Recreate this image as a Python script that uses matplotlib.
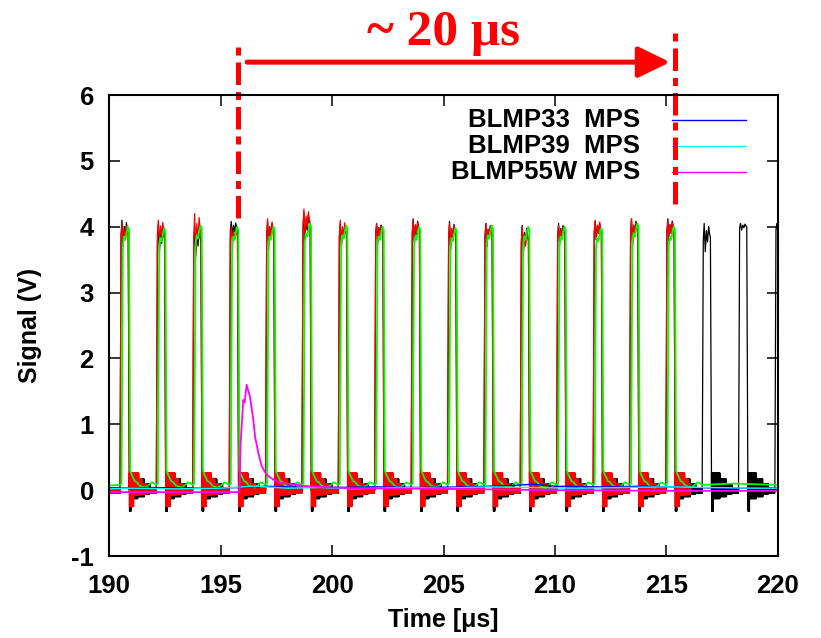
import matplotlib
matplotlib.use('Agg')
import matplotlib.pyplot as plt
import numpy as np

plt.rcParams['font.family'] = ['Liberation Sans', 'DejaVu Sans']
plt.rcParams['axes.unicode_minus'] = False

# pulse onsets (us)
onsets = [190.49, 192.12, 193.75, 195.39, 197.02, 198.65, 200.28, 201.91, 203.55,
          205.18, 206.81, 208.44, 210.07, 211.71, 213.34, 214.97, 216.60, 218.23, 219.86]
black_peak = [4.10, 4.02, 4.00, 4.08, 4.08, 4.22, 4.05, 4.05, 4.12, 4.08,
              4.05, 4.02, 4.05, 4.08, 4.12, 4.12, 4.05, 4.05, 4.05]
black_dip = [3.72, 3.60, 3.55, 3.85, 3.75, 3.80, 3.70, 3.80, 3.75, 3.65,
             3.70, 3.60, 3.75, 3.80, 3.75, 3.78, 3.62, 3.95, 3.90]
red_peak = [4.05, 4.10, 4.20, 4.00, 4.12, 4.27, 4.10, 4.05, 4.10, 4.05,
            4.05, 4.00, 4.02, 4.10, 4.12, 4.10]
red_dip = [3.70, 3.75, 3.60, 3.70, 3.65, 3.85, 3.70, 3.75, 3.80, 3.72,
           3.70, 3.55, 3.75, 3.80, 3.70, 3.80]
green_peak = [4.00, 3.98, 4.02, 4.00, 4.00, 4.05, 4.02, 4.00, 4.00, 3.98,
              4.02, 4.00, 4.00, 3.98, 4.05, 4.00]

# shape of one pulse top (time after onset, fraction between dip and peak)
top_t = [0.00, 0.05, 0.09, 0.14, 0.19, 0.24, 0.29, 0.34, 0.37, 0.42]
top_frac = [None, 0.4, 1.0, 0.0, 0.75, 0.35, 0.9, 0.6, 0.5, None]

# ringing after the falling edge: (from, to, low, high)
black_band = [(0.42, 0.50, -0.32, 0.26), (0.50, 0.80, -0.13, 0.26), (0.80, 1.10, -0.10, 0.17),
              (1.10, 1.35, -0.06, 0.10), (1.35, 1.80, -0.05, 0.03)]
red_band = [(0.42, 0.62, -0.25, 0.26), (0.62, 0.85, -0.08, 0.26), (0.85, 1.00, -0.07, 0.17),
            (1.00, 1.18, -0.06, 0.10), (1.18, 1.80, -0.05, 0.02)]

# green trace, one period after onset
green_t = [0.00, 0.07, 0.13, 0.18, 0.24, 0.30, 0.36, 0.41, 0.46, 0.52, 0.58,
           0.66, 0.76, 0.88, 1.00, 1.15, 1.30, 1.42, 1.55]
green_v = [0.08, 0.10, 3.70, 3.85, 3.80, 3.92, 4.00, 3.95, 0.30, 0.24, 0.20,
           0.14, 0.12, 0.07, 0.05, 0.04, 0.08, 0.12, 0.10]
green_tail_t = [216.6, 218.0, 220.0]
green_tail_v = [0.08, 0.10, 0.08]

blue_t = [190, 192, 194, 196, 197, 198, 200, 202, 204, 206, 208, 209, 210, 212, 214, 216, 218, 220]
blue_v = [0.03, 0.04, 0.03, 0.04, 0.06, 0.05, 0.04, 0.05, 0.04, 0.05, 0.07, 0.09, 0.06, 0.05, 0.06, 0.04, 0.03, 0.03]
cyan_t = [190, 191, 193, 195, 196.5, 198, 199.5, 201, 203, 205, 207, 209, 211, 213, 215, 217, 219, 220]
cyan_v = [0.02, 0.03, 0.02, 0.03, 0.06, 0.03, 0.04, 0.02, 0.04, 0.03, 0.05, 0.04, 0.03, 0.04, 0.05, 0.04, 0.03, 0.03]
magenta_t = [190, 195.85, 195.90, 196.02, 196.08, 196.17, 196.32, 196.47, 196.55, 196.70, 196.85,
             197.07, 197.37, 197.67, 197.97, 198.86, 200.8, 205, 210, 215, 220]
magenta_v = [-0.03, -0.03, 0.70, 1.37, 1.33, 1.60, 1.42, 1.07, 0.81, 0.56, 0.36,
             0.23, 0.16, 0.11, 0.10, 0.06, 0.03, 0.02, 0.00, -0.01, -0.01]

legend_names = ['BLMP33  MPS', 'BLMP39  MPS', 'BLMP55W MPS']
legend_colors = ['blue', 'cyan', 'magenta']

# "~ 20 us" marker
span_left, span_right = 195.78, 215.38
arrow_from, arrow_to, arrow_y = 196.19, 215.16, 6.5


def zig(a, b, lo, hi, step=0.01):
    tt = np.arange(a, b, step)
    vv = np.where(np.arange(len(tt)) % 2 == 0, hi, lo)
    return list(tt), list(vv)


def pulse_train(starts, peaks, dips, band, t_end):
    ts, vs = zig(190.0, starts[0], band[-1][2], band[-1][3])
    for i, t0 in enumerate(starts):
        nxt = starts[i + 1] if i + 1 < len(starts) else t_end
        for dt, f in zip(top_t, top_frac):
            ts.append(t0 + dt)
            vs.append(0.0 if f is None else dips[i] + f * (peaks[i] - dips[i]))
        for a, b, lo, hi in band:
            if t0 + a >= nxt:
                break
            t2, v2 = zig(t0 + a, min(t0 + b, nxt), lo, hi)
            ts += t2
            vs += v2
    return ts, vs


fig = plt.figure(figsize=(8.21, 6.38), dpi=100)
ax = fig.add_axes([0.1328, 0.1285, 0.8148, 0.7225])

bt, bv = pulse_train(onsets, black_peak, black_dip, black_band, 220.0)
ax.plot(bt, bv, color='black', lw=0.9)
rt, rv = pulse_train(onsets[:16], red_peak, red_dip, red_band, 216.1)
ax.plot(rt, rv, color='red', lw=0.9)

gt, gv = [], []
for i, t0 in enumerate(onsets[:16]):
    for dt, v in zip(green_t, green_v):
        gt.append(t0 + dt)
        gv.append(v + (green_peak[i] - 4.0) if v > 1 else v)
gt = [190.0] + gt + green_tail_t
gv = [0.07] + gv + green_tail_v
ax.plot(gt, gv, color='#00ff00', lw=1.3)

ax.plot(blue_t, blue_v, color='blue', lw=1.0)
ax.plot(cyan_t, cyan_v, color='cyan', lw=1.0)
ax.plot(magenta_t, magenta_v, color='magenta', lw=1.3)

# legend drawn gnuplot style: right aligned text, sample line to the right
for k, (name, c) in enumerate(zip(legend_names, legend_colors)):
    yy = 0.946 - k * 0.0565
    ax.text(0.794, yy, name, transform=ax.transAxes, ha='right', va='center',
            fontsize=18.5, fontweight='bold')
    ax.plot([0.8416, 0.952], [yy, yy], transform=ax.transAxes, color=c, lw=1.0)

ax.set_xlim(190, 220)
ax.set_ylim(-1, 6)
ax.set_xticks(np.arange(190, 221, 5))
ax.set_yticks(np.arange(-1, 7, 1))
ax.tick_params(direction='in', length=8, width=1.1, top=True, right=True,
               labelsize=18.5)
ax.tick_params(axis='x', pad=13)
ax.tick_params(axis='y', pad=11)
for lab in ax.get_xticklabels() + ax.get_yticklabels():
    lab.set_fontweight('bold')
for s in ax.spines.values():
    s.set_linewidth(1.5)

ax.set_xlabel('Time [μs]', fontsize=18, fontweight='bold')
ax.set_ylabel('Signal (V)', fontsize=18, fontweight='bold')
ax.xaxis.set_label_coords(0.5, -0.112)
ax.yaxis.set_label_coords(-0.1, 0.5)

# annotation above the frame
ax.plot([span_left, span_left], [4.13, 6.79], color='red', lw=3.6,
        dashes=(4.5, 1.4, 1.6, 1.4), clip_on=False)
ax.plot([span_right, span_right], [4.35, 7.0], color='red', lw=3.6,
        dashes=(4.5, 1.4, 1.6, 1.4), clip_on=False)
ax.annotate('', xy=(arrow_to, arrow_y), xytext=(arrow_from, arrow_y),
            arrowprops=dict(arrowstyle='-|>,head_length=1.95,head_width=0.95',
                            color='red', lw=3.6, shrinkA=0, shrinkB=0, mutation_scale=10),
            annotation_clip=False)
ax.text(204.98, 6.76, '~ 20 μs', color='red', fontsize=37, fontweight='bold',
        family='Liberation Serif', ha='center', va='baseline', clip_on=False)

fig.savefig('out.png', dpi=100)
